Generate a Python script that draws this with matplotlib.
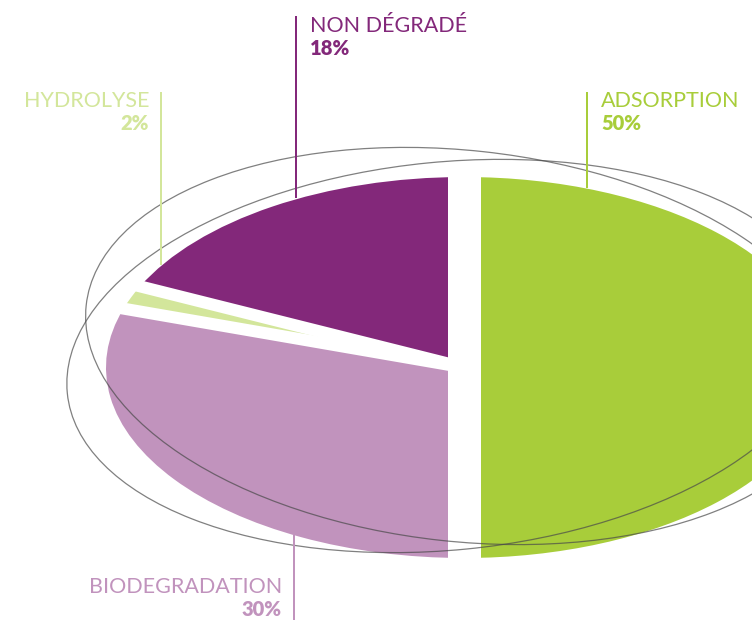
import numpy as np
import matplotlib.pyplot as plt
from matplotlib.patches import Ellipse

# données du camembert (ordre : départ en bas, sens anti-horaire)
labels = ['ADSORPTION', 'NON DÉGRADÉ', 'HYDROLYSE', 'BIODEGRADATION']
values = [50, 18, 2, 30]
colors = ['#a8cd3a', '#83287a', '#d3e69b', '#c193bd']

W, H = 752, 620
fig = plt.figure(figsize=(W / 100, H / 100), dpi=100)

# --- camembert elliptique : axes étirés ---
cx, cy, a, b = 464, 367.5, 358, 190.5
ax_pie = fig.add_axes([(cx - a) / W, (H - cy - b) / H, 2 * a / W, 2 * b / H])
ax_pie.pie(values, colors=colors, startangle=-90, counterclock=True,
           radius=1, wedgeprops=dict(linewidth=0))
ax_pie.set_aspect('auto')
ax_pie.set_xlim(-1, 1)
ax_pie.set_ylim(-1, 1)
ax_pie.axis('off')

# séparations blanches entre les parts
bounds = -90 + 360 * np.cumsum([0] + values[:-1]) / sum(values)
px = 72 / 100
ax_pie.plot([0, 0], [-1.2, 1.2], color='white', lw=33 * px, solid_capstyle='butt')
for ang in bounds:
    if abs(np.cos(np.radians(ang))) < 1e-6:
        continue
    t = np.radians(ang)
    ax_pie.plot([0, 1.3 * np.cos(t)], [0, 1.3 * np.sin(t)], color='white',
                lw=12 * px, solid_capstyle='butt')

# --- calque du dessus en coordonnées pixel ---
ax = fig.add_axes([0, 0, 1, 1])
ax.set_xlim(0, W)
ax.set_ylim(H, 0)
ax.axis('off')
ax.patch.set_alpha(0)

# deux ellipses décoratives
ax.add_patch(Ellipse((462, 346), 756, 391, angle=6.2, fill=False,
                     edgecolor='#4a4a4a', lw=0.9, alpha=0.7))
ax.add_patch(Ellipse((447, 356), 763, 388, angle=-5.6, fill=False,
                     edgecolor='#4a4a4a', lw=0.9, alpha=0.7))

# étiquettes : (x texte, baseline titre, ha, x trait, y haut trait, y bas trait)
label_pos = [
    (601, 107, 'left', 587, 92, 188),
    (310, 31.5, 'left', 296, 16, 198),
    (149, 107, 'right', 161, 92, 265),
    (282, 593, 'right', 294, 535, 625),
]

fam = ['Lato', 'DejaVu Sans']
for lab, val, col, (tx, ty, ha, lx, ly0, ly1) in zip(labels, values, colors, label_pos):
    ax.plot([lx, lx], [ly0, ly1], color=col, lw=2 * px, solid_capstyle='butt')
    ax.text(tx, ty, lab, color=col, ha=ha, va='baseline', fontsize=15.5,
            family=fam, fontweight='normal')
    ax.text(tx, ty + 23.5, f'{val}%', color=col, ha=ha, va='baseline', fontsize=14.5,
            family=fam, fontweight='heavy')

fig.savefig('out.png', dpi=100)
